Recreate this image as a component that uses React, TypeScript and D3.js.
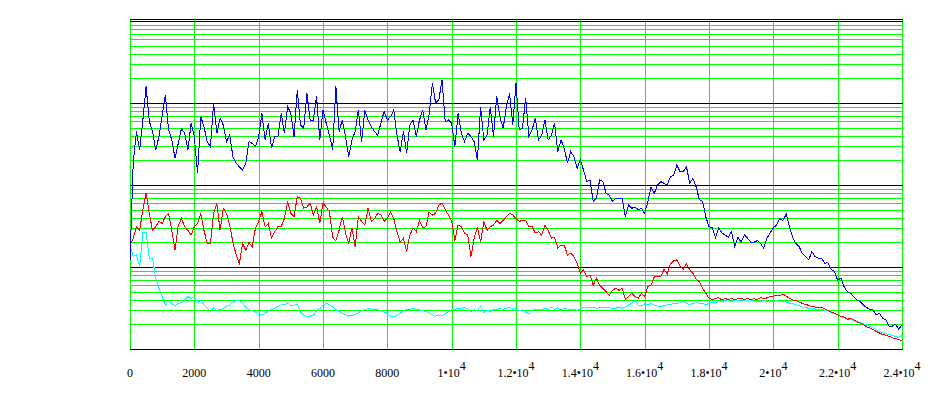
import React from "react";
import * as d3 from "d3";

// samples every STEP units along x, starting at 0
const STEP = 100;

const blueSeries = [
  12, 184, 450, 267, 620, 1590, 600, 450, 267, 388,
  700, 1250, 470, 354, 212, 322, 490, 427, 267, 565,
  388, 139, 680, 515, 338, 293, 1000, 427, 650, 540,
  338, 405, 222, 184, 167, 152, 184, 338, 322, 293,
  388, 750, 354, 565, 280, 388, 388, 750, 427, 900,
  750, 388, 1440, 540, 490, 1310, 620, 620, 1200, 354,
  820, 565, 405, 267, 1590, 450, 620, 388, 222, 354,
  450, 820, 338, 820, 620, 515, 450, 405, 565, 790,
  620, 680, 820, 405, 255, 450, 243, 540, 620, 388,
  620, 820, 470, 720, 1740, 1000, 1090, 1900, 590, 620,
  565, 293, 750, 427, 338, 427, 388, 338, 200, 900,
  354, 405, 900, 388, 1200, 680, 490, 900, 1310, 540,
  1740, 470, 490, 1150, 388, 470, 650, 354, 405, 620,
  354, 405, 565, 255, 354, 280, 184, 255, 222, 160,
  202, 152, 110, 115, 63, 69, 115, 110, 79, 75,
  63, 69, 69, 69, 41, 57, 52, 54, 50, 52,
  45, 63, 95, 79, 100, 110, 105, 100, 126, 132,
  175, 145, 145, 167, 105, 120, 95, 66, 63, 41,
  31, 30, 23, 30, 26, 24.5, 23, 27, 17.7, 23,
  20, 24.5, 22.4, 20, 20, 21, 19.4, 16.9, 22.4, 26,
  30, 32.5, 39, 37, 44, 31, 23, 19.4, 17.7, 14.7,
  13.4, 12.2, 15.4, 13.4, 12.8, 12.8, 11.1, 11.3, 9.4, 8.8,
  6.9, 7.3, 5.75, 5.0, 4.8, 4.35, 3.96, 3.78, 3.44, 3.2,
  3.05, 3.0, 2.6, 2.72, 2.36, 2.26, 1.9, 1.9, 2.0, 1.74,
  1.96,
];

const redSeries = [
  18.5, 22.4, 31, 28, 50, 80, 45, 28, 31, 36,
  34, 41, 45, 28, 16, 32, 39, 31, 28, 24.5,
  31, 34, 45, 28, 19.4, 19.4, 45, 60, 28, 52,
  45, 32, 20, 14, 11, 19.4, 16, 20, 17.7, 30,
  36, 47, 31, 34, 22.4, 27, 31, 31, 39, 63,
  45, 41, 72, 69, 52, 54, 60, 43, 54, 34,
  60, 54, 47, 23, 21, 28, 41, 26, 19.4, 30,
  17.7, 41, 36, 32.5, 52, 36, 39, 45, 43, 36,
  39, 47, 39, 27, 20, 22.4, 15.4, 24.5, 30, 27,
  37, 30, 31, 47, 43, 45, 57, 60, 50, 43,
  36, 21, 32.5, 31, 26, 24.5, 13.4, 22.4, 31, 20,
  36, 28, 31, 32.5, 37, 34, 37, 41, 45, 43,
  39, 36, 37, 37, 31, 31, 26, 27, 24.5, 32.5,
  28, 22.4, 23, 17, 18.5, 18.5, 14, 14.7, 13.4, 11,
  8.4, 9.2, 7.6, 8, 6, 7.3, 6, 5.5, 5, 4.5,
  5.2, 5.5, 5.2, 5.5, 4, 4.35, 4.8, 4.35, 4.15, 4.8,
  4.35, 5.75, 6, 7.6, 7.6, 7.6, 9.4, 8.2, 10.9, 11.9,
  12.2, 10.3, 9.4, 11, 9.2, 8.4, 7.1, 6.6, 5.5, 4.8,
  4.15, 4.0, 4.15, 4.25, 3.96, 4.15, 3.96, 4.15, 3.96, 4.1,
  4.2, 4.0, 4.15, 3.96, 4.1, 4.0, 4.25, 4.1, 4.2, 4.35,
  4.4, 4.55, 4.5, 4.7, 4.4, 4.15, 3.96, 3.9, 3.75, 3.6,
  3.5, 3.4, 3.28, 3.25, 3.2, 3.2, 3.1, 2.94, 2.83, 2.72,
  2.6, 2.48, 2.46, 2.3, 2.36, 2.26, 2.15, 2.06, 1.98, 1.87,
  1.8, 1.72, 1.64, 1.57, 1.5, 1.47, 1.43, 1.37, 1.34, 1.3,
  1.26,
];

const cyanSeries = [
  18.5, 13.4, 14, 10.1, 26, 26, 12.8, 12.8, 7.3, 5.5,
  4.35, 3.44, 3.78, 3.6, 3.34, 3.6, 3.67, 3.96, 4.35, 4.15,
  4.25, 3.67, 3.9, 3.44, 3.14, 2.85, 3.2, 2.94, 3.05, 3.1,
  3.34, 3.44, 3.7, 3.9, 3.9, 3.67, 3.2, 3.0, 2.94, 2.83,
  2.65, 2.6, 2.72, 2.94, 3.02, 3.14, 3.28, 3.47, 3.44, 3.64,
  3.4, 3.37, 3.54, 2.83, 2.6, 2.48, 2.52, 2.57, 2.94, 3.1,
  3.44, 3.6, 3.47, 3.25, 3.02, 2.88, 2.75, 2.62, 2.52, 2.55,
  2.65, 2.77, 2.94, 3.02, 3.1, 3.1, 3.02, 3.0, 2.97, 2.83,
  2.72, 2.52, 2.48, 2.6, 2.72, 2.94, 3.05, 3.05, 3.14, 3.05,
  3.0, 2.94, 2.85, 2.75, 2.62, 2.52, 2.6, 2.57, 2.67, 2.85,
  3.0, 3.05, 3.1, 3.07, 3.24, 3.1, 2.85, 3.0, 2.94, 3.34,
  2.77, 3.0, 2.85, 3.05, 3.0, 3.14, 3.05, 3.14, 3.24, 3.05,
  3.1, 2.94, 3.0, 2.85, 2.67, 2.94, 3.05, 3.05, 3.0, 3.14,
  3.05, 3.24, 3.05, 3.14, 3.0, 3.14, 3.05, 3.0, 3.05, 2.94,
  3.1, 3.24, 3.14, 3.25, 3.24, 3.14, 3.2, 3.17, 3.2, 3.2,
  3.14, 3.14, 3.24, 3.14, 3.28, 3.44, 3.6, 3.96, 3.44, 3.34,
  3.54, 3.47, 3.6, 3.44, 3.34, 3.28, 3.4, 3.44, 3.5, 3.57,
  3.6, 3.67, 3.78, 3.6, 3.47, 3.6, 3.67, 3.6, 3.6, 3.47,
  3.6, 3.74, 3.67, 3.85, 3.78, 3.9, 3.92, 3.8, 3.9, 3.92,
  3.96, 3.96, 3.92, 3.92, 3.8, 3.85, 3.8, 3.92, 3.8, 3.85,
  3.78, 3.9, 3.78, 3.85, 3.74, 3.6, 3.6, 3.47, 3.37, 3.25,
  3.2, 3.14, 3.1, 3.07, 3.05, 3.02, 2.97, 2.91, 2.77, 2.7,
  2.6, 2.48, 2.43, 2.36, 2.3, 2.21, 2.15, 2.08, 2.02, 1.96,
  1.89, 1.8, 1.72, 1.64, 1.57, 1.54, 1.5, 1.47, 1.41, 1.39,
  1.48,
];

const xTicks = [0, 2000, 4000, 6000, 8000, 10000, 12000, 14000, 16000, 18000, 20000, 22000, 24000];
const xTickLabels = [
  "0", "2000", "4000", "6000", "8000",
  "1•10^4", "1.2•10^4", "1.4•10^4", "1.6•10^4", "1.8•10^4",
  "2•10^4", "2.2•10^4", "2.4•10^4",
];

const width = 952;
const height = 395;

const x = d3.scaleLinear().domain([0, 24000]).range([130, 902]);
const y = d3.scaleLog().domain([1, 10578]).range([349, 19]);

const px = (v: number) => Math.round(v) + 0.5;

function TickLabel({ label, cx }: { label: string; cx: number }) {
  const [base, exp] = label.split("^");
  return (
    <text x={cx} y={377} textAnchor="middle" fontFamily="'Liberation Serif', 'Times New Roman', serif" fontSize={12} fill="#000">
      {base}
      {exp && <tspan dy={-7}>{exp}</tspan>}
    </text>
  );
}

export default function App() {
  const line = d3
    .line<number>()
    .x((_, i) => x(i * STEP))
    .y((d) => y(d));

  const yTicks = y.ticks();
  const isDecade = (t: number) => Math.abs(Math.log10(t) - Math.round(Math.log10(t))) < 1e-9;
  const [x0, x1] = x.range();
  const [yb, yt] = y.range();

  return (
    <svg width={width} height={height} style={{ position: "absolute", left: 0, top: 0, background: "#fff" }}>
      <g shapeRendering="crispEdges" strokeWidth={1}>
        {yTicks.filter((t) => !isDecade(t)).map((t) => (
          <line key={"g" + t} x1={x0} x2={x1 + 1} y1={px(y(t))} y2={px(y(t))} stroke="#00ff00" />
        ))}
        {xTicks.map((t) => (
          <line key={"v" + t} x1={px(x(t))} x2={px(x(t))} y1={yt} y2={yb} stroke="#00ff00" />
        ))}
        {yTicks.filter(isDecade).map((t) => (
          <line key={"d" + t} x1={x0} x2={x1 + 1} y1={px(y(t))} y2={px(y(t))} stroke="#000" />
        ))}
        <line x1={x0} x2={x1 + 1} y1={px(yt)} y2={px(yt)} stroke="#000" />
      </g>
      <g fill="none" strokeWidth={1} shapeRendering="crispEdges">
        <path d={line(cyanSeries) || ""} stroke="#00ffff" />
        <path d={line(redSeries) || ""} stroke="#ff0000" />
        <path d={line(blueSeries) || ""} stroke="#0000ff" />
      </g>
      {xTicks.map((t, i) => (
        <TickLabel key={t} label={xTickLabels[i]} cx={x(t)} />
      ))}
    </svg>
  );
}
